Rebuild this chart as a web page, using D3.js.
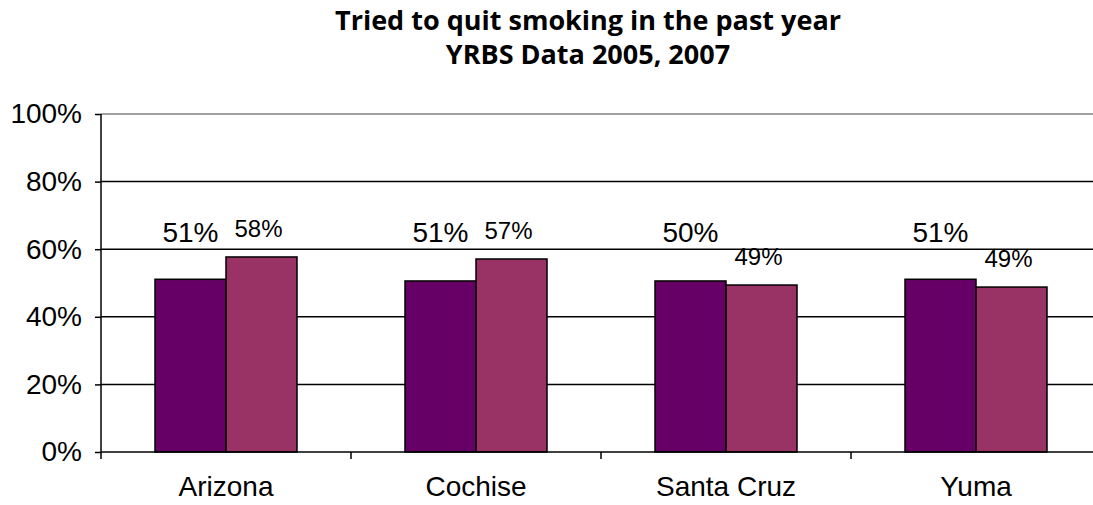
<!DOCTYPE html>
<html><head><meta charset="utf-8">
<script src="https://cdn.jsdelivr.net/npm/d3@7"></script>
<style>
html,body{margin:0;padding:0;background:#fff;}
svg{display:block;}
</style></head>
<body>
<svg id="c" width="1093" height="505"></svg>
<script>
const titleLines = ["Tried to quit smoking in the past year", "YRBS Data 2005, 2007"];
const categories = ["Arizona", "Cochise", "Santa Cruz", "Yuma"];
const seriesNames = ["2005", "2007"];
const values2005 = [0.511, 0.506, 0.506, 0.511];
const values2007 = [0.577, 0.571, 0.494, 0.488];
const labels2005 = ["51%", "51%", "50%", "51%"];
const labels2007 = ["58%", "57%", "49%", "49%"];
const yTicks = [0, 0.2, 0.4, 0.6, 0.8, 1.0];
const colors = ["#660066", "#993366"];

(function () {
const svg = d3.select("#c");
const mLeft = 101, mRight = 1101, mTop = 114, mBottom = 452;

const x = d3.scaleBand().domain(categories).range([mLeft, mRight]).padding(0);
const barW = 71;
const x1 = d3.scaleBand().domain(seriesNames).range([0, barW * 2]).padding(0);
const y = d3.scaleLinear().domain([0, 1]).range([mBottom, mTop]);

// gridlines
svg.append("g").selectAll("line").data(yTicks.filter(d => d > 0)).join("line")
  .attr("x1", mLeft).attr("x2", mRight)
  .attr("y1", d => y(d)).attr("y2", d => y(d))
  .attr("stroke", d => d === 1 ? "#808080" : "#000")
  .attr("stroke-width", 1.5);

// y axis
const yAxis = d3.axisLeft(y).tickValues(yTicks).tickFormat(d3.format(".0%")).tickSize(6).tickPadding(13);
const gy = svg.append("g").attr("transform", `translate(${mLeft},0)`).call(yAxis);
gy.select(".domain").remove();
gy.selectAll(".tick line").attr("stroke", "#000").attr("stroke-width", 1.5);
gy.selectAll(".tick text").attr("font-family", "Liberation Sans, Arial, sans-serif")
  .attr("font-size", 28).attr("fill", "#000");
svg.append("line").attr("x1", mLeft).attr("x2", mLeft).attr("y1", mTop).attr("y2", mBottom + 7)
  .attr("stroke", "#000").attr("stroke-width", 1.5);

// bars
const data = categories.map((c, i) => ({c, i, vals: [values2005[i], values2007[i]]}));
const groups = svg.append("g").selectAll("g").data(data).join("g")
  .attr("transform", d => `translate(${x(d.c) + x.bandwidth() / 2 - barW},0)`);
groups.selectAll("rect").data(d => d.vals.map((v, k) => ({v, k}))).join("rect")
  .attr("x", d => x1(seriesNames[d.k]))
  .attr("width", x1.bandwidth())
  .attr("y", d => y(d.v))
  .attr("height", d => mBottom - y(d.v))
  .attr("fill", d => colors[d.k])
  .attr("stroke", "#000").attr("stroke-width", 1.5);

// x axis
const xAxis = d3.axisBottom(x).tickSize(0).tickPadding(24);
const gx = svg.append("g").attr("transform", `translate(0,${mBottom})`).call(xAxis);
gx.select(".domain").remove();
gx.selectAll(".tick text").attr("font-family", "Liberation Sans, Arial, sans-serif")
  .attr("font-size", 28).attr("fill", "#000");
svg.append("line").attr("x1", mLeft).attr("x2", mRight).attr("y1", mBottom).attr("y2", mBottom)
  .attr("stroke", "#000").attr("stroke-width", 1.5);
svg.append("g").selectAll("line").data(categories.slice(1)).join("line")
  .attr("x1", d => x(d)).attr("x2", d => x(d))
  .attr("y1", mBottom).attr("y2", mBottom + 7)
  .attr("stroke", "#000").attr("stroke-width", 1.5);

// data labels
groups.append("text")
  .attr("x", x1("2005") + x1.bandwidth() / 2)
  .attr("y", y(0.6) - 7)
  .attr("text-anchor", "middle")
  .attr("font-family", "Liberation Sans, Arial, sans-serif")
  .attr("font-size", 28)
  .text(d => labels2005[d.i]);
groups.append("text")
  .attr("x", x1("2007") + x1.bandwidth() / 2 - 3)
  .attr("y", d => y(d.vals[1]) - 20)
  .attr("text-anchor", "middle")
  .attr("font-family", "Liberation Sans, Arial, sans-serif")
  .attr("font-size", 24)
  .text(d => labels2007[d.i]);

// title
svg.append("g").selectAll("text").data(titleLines).join("text")
  .attr("x", 588)
  .attr("y", (d, i) => 30 + i * 34)
  .attr("text-anchor", "middle")
  .attr("font-family", "Open Sans, sans-serif")
  .attr("font-weight", "bold")
  .attr("font-size", 27)
  .text(d => d);
})();
</script>
</body></html>
